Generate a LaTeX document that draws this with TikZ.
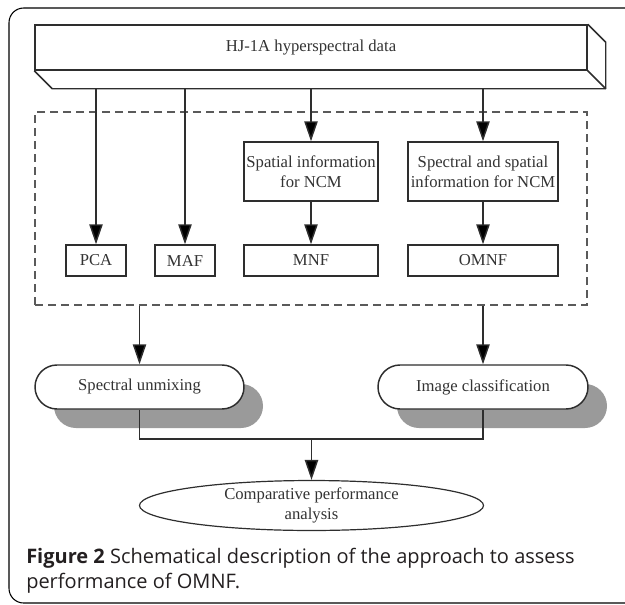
\documentclass[tikz,border=0pt]{standalone}
\usepackage{fontspec}
\setmainfont{Liberation Serif}
\newfontfamily\capfont{Open Sans}
\usetikzlibrary{arrows.meta,shapes.geometric,calc,shadows}
\definecolor{lc}{HTML}{2E2E2E}
\definecolor{tc}{HTML}{333333}
\definecolor{dc}{HTML}{5A5A5A}
\definecolor{sc}{HTML}{9A9A9A}
\definecolor{capc}{HTML}{231F20}
\begin{document}
\begin{tikzpicture}[x=0.75pt,y=-0.75pt,
  line/.style={draw=lc, line width=1.1pt},
  arr/.style={line, -{Triangle[length=15pt,width=10pt,fill=black]}},
  box/.style={draw=lc, line width=1.1pt, fill=white, inner sep=0pt, align=center,
    font=\fontsize{12.5}{15}\selectfont, text=tc},
  smallbox/.style={box, minimum height=23.25pt},
  midbox/.style={box, minimum height=44.25pt},
  pill/.style={box, rounded corners=16.5pt, minimum height=33pt,
    drop shadow={shadow xshift=14.25pt, shadow yshift=-14.25pt, fill=sc, opacity=1}},
  grpbox/.style={draw=dc, line width=1.1pt, dash pattern=on 6pt off 3.75pt,
    minimum width=414pt, minimum height=144.75pt, inner sep=0pt},
  oval/.style={ellipse, draw=lc, line width=0.9pt, fill=white, inner sep=0pt, align=center,
    font=\fontsize{12.5}{15}\selectfont, text=tc, minimum width=258pt, minimum height=33.75pt},
  frame/.style={draw=black, line width=0.8pt, rounded corners=11pt},
  captext/.style={anchor=base west, inner sep=0pt, text=capc, font=\capfont\fontsize{15}{18.75}\selectfont}
]
\useasboundingbox (0,0) rectangle (625,604);
\clip (0,0) rectangle (625,604);

% outer frame
\draw[frame] (660,8) -- (9,8) -- (9,603) -- (660,603);

% dashed group
\node[grpbox] (grp) at (311,208.5) {};

% top 3D box
\node[box, minimum width=414pt, minimum height=33.75pt] (hj) at (311,47.5) {HJ-1A hyperspectral data};
\draw[line, line join=round] (hj.south west) -- ($(hj.south west)+(18,18)$) -- ($(hj.south east)+(18,18)$)
  -- ($(hj.north east)+(18,18)$) -- (hj.north east);
\draw[line] (hj.south east) -- ($(hj.south east)+(18,18)$);
\coordinate (hjbot) at ($(hj.south)+(0,18)$);

% inner boxes
\node[smallbox, minimum width=45pt] (pca) at (96,260.5) {PCA};
\node[smallbox, minimum width=45pt] (maf) at (185,260.5) {MAF};
\node[smallbox, minimum width=100.5pt] (mnf) at (311,260.5) {MNF};
\node[smallbox, minimum width=112.5pt] (omnf) at (483,260.5) {OMNF};
\node[midbox, minimum width=100.5pt] (spa) at (311,171.5) {Spatial information\\for NCM};
\node[midbox, minimum width=112.5pt] (spe) at (483,171.5) {Spectral and spatial\\information for NCM};

% arrows from data
\draw[arr] (hjbot -| pca) -- (pca);
\draw[arr] (hjbot -| maf) -- (maf);
\draw[arr] (hjbot -| spa) -- (spa);
\draw[arr] (hjbot -| spe) -- (spe);
\draw[arr] (spa) -- (mnf);
\draw[arr] (spe) -- (omnf);

% pills
\node[pill, minimum width=156.75pt] (su) at (139.5,387) {Spectral unmixing};
\node[pill, minimum width=157.5pt] (ic) at (483,387) {Image classification};
\draw[arr] (grp.south -| su) -- (su);
\draw[arr] (grp.south -| ic) -- (ic);

% final
\node[oval] (cpa) at (311.5,505.5) {Comparative performance\\analysis};
\coordinate (j) at (311.5,439);
\draw[line] (su.south) |- (j) -| (ic.south);
\draw[arr] (j) -- (cpa);

% caption
\node[captext] (cap1) at (26,563) {\textbf{Figure 2} Schematical description of the approach to assess};
\node[captext] (cap2) at (26,588) {performance of OMNF.};
\end{tikzpicture}
\end{document}
